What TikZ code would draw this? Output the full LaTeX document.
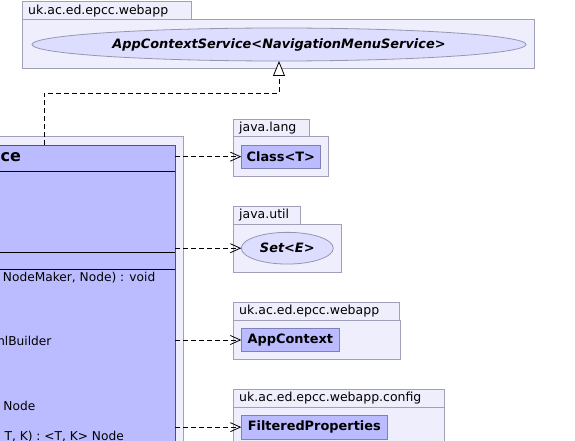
\documentclass[tikz,border=0pt]{standalone}
\usepackage{fontspec}
\setmainfont{DejaVu Sans}
\usetikzlibrary{arrows.meta,shapes.geometric}
\definecolor{pkgfill}{RGB}{238,238,252}
\definecolor{pkgdraw}{RGB}{160,160,184}
\definecolor{clsfill}{RGB}{187,187,255}
\definecolor{clsdraw}{RGB}{128,128,184}
\definecolor{mcdraw}{RGB}{80,80,120}
\definecolor{ellfill}{RGB}{221,221,255}
\definecolor{elldraw}{RGB}{150,150,176}
\begin{document}
\begin{tikzpicture}[x=1pt,y=-1pt,
  box/.style={rectangle,inner sep=0pt,outer sep=0pt,line width=1pt,anchor=north west},
  pkg/.style={box,draw=pkgdraw,fill=pkgfill},
  cls/.style={box,draw=clsdraw,fill=clsfill,font=\fontsize{12.9}{15}\selectfont\bfseries},
  iface/.style={ellipse,inner sep=0pt,outer sep=0pt,line width=0.8pt,draw=elldraw,fill=ellfill,font=\fontsize{12.9}{15}\selectfont\bfseries\itshape},
  pkglabel/.style={anchor=west,inner sep=0pt,font=\fontsize{12.5}{15}\selectfont},
  mtext/.style={inner sep=0pt,font=\fontsize{12.2}{15}\selectfont},
  dep/.style={line width=0.8pt,dash pattern=on 5pt off 3pt,-{Straight Barb[length=10pt,width=9pt]}},
  gen/.style={line width=0.8pt,dash pattern=on 5pt off 3pt,-{Triangle[open,length=15pt,width=12pt,line width=0.8pt,fill=white]}},
  sep/.style={line width=1pt,black}]
\useasboundingbox (0,0) rectangle (575,441);
\clip (0,0) rectangle (575,441);
% top package
\node[pkg,minimum width=169,minimum height=18] (toptab) at (22,2) {};
\node[pkglabel] (toplabel) at ([xshift=6pt]toptab.west) {uk.ac.ed.epcc.webapp};
\node[pkg,minimum width=512,minimum height=49] (topbody) at (22,20) {};
\node[iface,minimum width=494,minimum height=33] (svc) at (279,44.5) {AppContextService<NavigationMenuService>};
% left package and main class
\node[pkg,anchor=north east,minimum width=230,minimum height=330] (leftbody) at (183,136) {};
\node[box,anchor=north east,draw=mcdraw,fill=clsfill,minimum width=210,minimum height=320] (mc) at (175,145) {};
\draw[sep] (mc.west |- 0,171.7) -- (mc.east |- 0,171.7);
\draw[sep] (mc.west |- 0,252) -- (mc.east |- 0,252);
\draw[sep] (mc.west |- 0,269.7) -- (mc.east |- 0,269.7);
\node[inner sep=0pt,anchor=west,font=\fontsize{16}{19}\selectfont\bfseries] (mctitle) at (0.5,157.5) {ce};
\node[mtext,anchor=east] (m1) at (155.5,278) {NodeMaker, Node) : void};
\node[mtext,anchor=east] (m2) at (51.7,341) {HtmlBuilder};
\node[mtext,anchor=east] (m3) at (35.5,405.5) {Node};
\node[mtext,anchor=east] (m4) at (124,436.5) {, T, K) : <T, K> Node};
% java.lang
\node[pkg,minimum width=76,minimum height=16.5] (langtab) at (233,119.5) {};
\node[pkglabel] (langlabel) at ([xshift=6pt]langtab.west) {java.lang};
\node[pkg,minimum width=95.3,minimum height=40] (langbody) at (233,136) {};
\node[cls,minimum width=79,minimum height=23.3] (classT) at (241.3,145) {Class<T>};
% java.util
\node[pkg,minimum width=67.3,minimum height=17.6] (utiltab) at (233,206.7) {};
\node[pkglabel] (utillabel) at ([xshift=6pt]utiltab.west) {java.util};
\node[pkg,minimum width=108.3,minimum height=48] (utilbody) at (233,224.3) {};
\node[iface,minimum width=92,minimum height=31.7] (setE) at (287.3,248.2) {Set<\textit{E}>};
% uk.ac.ed.epcc.webapp (lower)
\node[pkg,minimum width=166.3,minimum height=18.4] (waptab) at (233,302.3) {};
\node[pkglabel] (waplabel) at ([xshift=6pt]waptab.west) {uk.ac.ed.epcc.webapp};
\node[pkg,minimum width=167.3,minimum height=38.3] (wapbody) at (233,320.7) {};
\node[cls,minimum width=98,minimum height=23.4] (appctx) at (241.3,328.3) {AppContext};
% uk.ac.ed.epcc.webapp.config
\node[pkg,minimum width=211.3,minimum height=18] (cfgtab) at (233,389.3) {};
\node[pkglabel] (cfglabel) at ([xshift=6pt]cfgtab.west) {uk.ac.ed.epcc.webapp.config};
\node[pkg,minimum width=211.3,minimum height=60] (cfgbody) at (233,407.3) {};
\node[cls,minimum width=146,minimum height=24.3] (filt) at (241.3,415) {FilteredProperties};
% connectors
\coordinate (g1) at (44.3,145);
\draw[gen] (g1) -- ++(0,-52) -| (svc.south);
\draw[dep] (classT.west -| mc.east) -- (classT.west);
\draw[dep] (setE.west -| mc.east) -- (setE.west);
\draw[dep] (appctx.west -| mc.east) -- (appctx.west);
\draw[dep] (filt.west -| mc.east) -- (filt.west);
\end{tikzpicture}
\end{document}
